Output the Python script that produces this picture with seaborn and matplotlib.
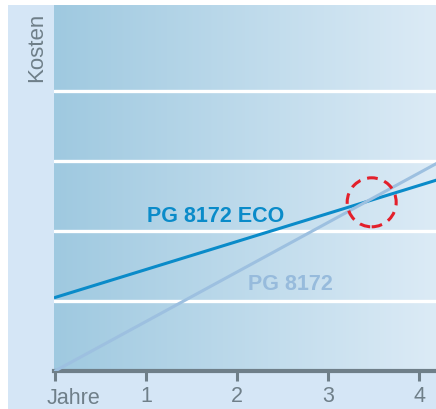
import numpy as np
import pandas as pd
import seaborn as sns
import matplotlib.pyplot as plt
from matplotlib.patches import Ellipse, Rectangle
from matplotlib.colors import LinearSegmentedColormap

# --- data ---
jahre = [0.0, 4.2]
kosten_eco = [1.05, 2.73]
kosten_std = [0.0, 2.97]
serien = ['PG 8172 ECO', 'PG 8172']
xticks = [0, 1, 2, 3, 4]
xticklabels = ['', '1', '2', '3', '4']
gitter_y = [1, 2, 3, 4]
achse_x = 'Jahre'
achse_y = 'Kosten'
schnittpunkt = (3.48, 2.41)

df = pd.DataFrame({
    'Jahre': jahre + jahre,
    'Kosten': kosten_eco + kosten_std,
    'Serie': [serien[0]] * len(jahre) + [serien[1]] * len(jahre),
})

sns.set_style('white')
plt.rcParams['font.family'] = ['Liberation Sans', 'DejaVu Sans']

W, H = 436, 409
fig = plt.figure(figsize=(W / 100, H / 100), dpi=100)
fig.patch.set_facecolor('white')
bg = Rectangle((8 / W, 0), 1 - 8 / W, 404 / H, transform=fig.transFigure,
               facecolor='#d5e6f6', edgecolor='none', zorder=-5)
fig.add_artist(bg)

ax = fig.add_axes([54 / W, 38 / H, 1 - 54 / W, 366 / H])
ax.set_zorder(1)
ax.patch.set_alpha(0)
grad = np.linspace(0, 1, 256).reshape(1, -1)
cmap = LinearSegmentedColormap.from_list('bg', ['#9fc9e0', '#dcebf6'])
ax.imshow(grad, extent=[0, 1, 0, 1], transform=ax.transAxes, aspect='auto', cmap=cmap, zorder=0)

palette = {serien[0]: '#0a8bc9', serien[1]: '#9dc0e0'}
sns.lineplot(data=df, x='Jahre', y='Kosten', hue='Serie', palette=palette, legend=False,
             linewidth=2.2, ax=ax, zorder=3)

ax.set_xlim(-1 / 91, (W - 55) / 91)
ax.set_ylim(0, 366 / 70)
ax.set_aspect('auto')

ax.set_yticks(gitter_y)
ax.yaxis.grid(True, color='white', linewidth=2.4)
ax.xaxis.grid(False)
ax.set_axisbelow(True)
ax.tick_params(axis='y', length=0, labelleft=False, left=False)

ax.set_xticks(xticks)
ax.set_xticklabels(xticklabels)
axis_col = '#6f7f89'
ax.tick_params(axis='x', bottom=True, length=7, width=2.2, color=axis_col, labelcolor=axis_col,
               labelsize=15.5, pad=4, direction='out')
for s in ['top', 'right', 'left']:
    ax.spines[s].set_visible(False)
ax.spines['bottom'].set_color(axis_col)
ax.spines['bottom'].set_linewidth(3)
ax.set_xlabel('')
ax.set_ylabel('')

lab_font = ['Liberation Sans', 'DejaVu Sans']
ax.text(1.76, 2.2, serien[0], ha='center', va='center', color='#0a8bc9',
        fontsize=15.5, fontweight='bold', family=lab_font, zorder=4)
ax.text(2.59, 1.23, serien[1], ha='center', va='center', color='#97bbdc',
        fontsize=15.5, fontweight='bold', family=lab_font, zorder=4)

ax.add_patch(Ellipse(schnittpunkt, 49 / 91, 49 / 70, fill=False, edgecolor='#e3202b',
                     linewidth=2.2, linestyle=(0, (3.5, 2.3)), zorder=5))

fig.text(37 / W, 1 - 47 / H, achse_y, rotation=90, ha='center', va='center',
         color=axis_col, fontsize=16)
fig.text(47 / W, 1 - 404 / H, achse_x, ha='left', va='baseline', color=axis_col, fontsize=15.5)

fig.savefig('out.png', dpi=100)
